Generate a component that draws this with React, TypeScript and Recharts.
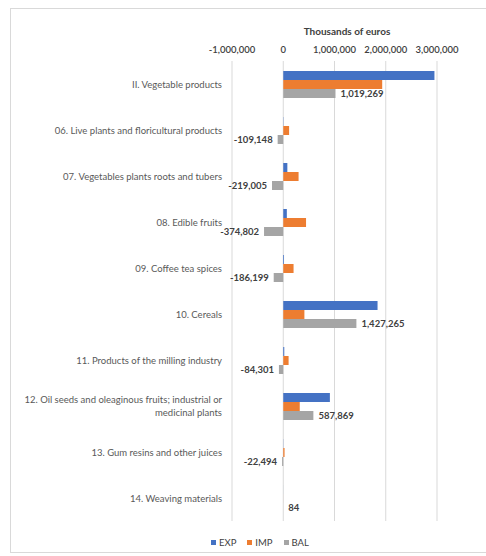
import React from 'react';
import { BarChart, Bar, XAxis, YAxis, CartesianGrid, LabelList } from 'recharts';

const categories = [
  'II. Vegetable products',
  '06. Live plants and floricultural products',
  '07. Vegetables plants roots and tubers',
  '08. Edible fruits',
  '09. Coffee tea spices',
  '10. Cereals',
  '11. Products of the milling industry',
  '12. Oil seeds and oleaginous fruits; industrial or medicinal plants',
  '13. Gum resins and other juices',
  '14. Weaving materials',
];
const expValues = [2950000, 5000, 80000, 70000, 15000, 1840000, 20000, 910000, 3000, 500];
const impValues = [1930731, 114148, 299005, 444802, 201199, 412735, 104301, 322131, 25494, 416];
const balValues = [1019269, -109148, -219005, -374802, -186199, 1427265, -84301, 587869, -22494, 84];
const xTicks = [-1000000, 0, 1000000, 2000000, 3000000];

const seriesNames = ['EXP', 'IMP', 'BAL'];
const seriesColors = ['#4472C4', '#ED7D31', '#A5A5A5'];

const data = categories.map((name, i) => ({
  name,
  EXP: expValues[i],
  IMP: impValues[i],
  BAL: balValues[i],
}));

const FONT = 'Lato, "Open Sans", sans-serif';
const fmt = (v: number) => v.toLocaleString('en-US');

// simple word wrap for long category names
const wrap = (s: string, max: number) => {
  const words = s.split(' ');
  const lines: string[] = [];
  let cur = '';
  words.forEach((w) => {
    if ((cur + ' ' + w).trim().length > max) {
      lines.push(cur.trim());
      cur = w;
    } else {
      cur = (cur + ' ' + w).trim();
    }
  });
  if (cur) lines.push(cur);
  return lines;
};

const CategoryTick = (props: any) => {
  const { y, payload } = props;
  const lines = wrap(payload.value, 50);
  const lh = 12.5;
  const start = y - ((lines.length - 1) * lh) / 2;
  return (
    <text x={222} y={start} textAnchor="end" fontFamily={FONT} fontSize={9.5} fill="#595959">
      {lines.map((l, i) => (
        <tspan key={i} x={222} y={start + i * lh} dominantBaseline="central">
          {l}
        </tspan>
      ))}
    </text>
  );
};

const ValueTick = (props: any) => {
  const { x, payload } = props;
  return (
    <text x={x} y={49} textAnchor="middle" dominantBaseline="central" fontFamily={FONT} fontSize={9.5} fontWeight={600} fill="#404040">
      {fmt(payload.value)}
    </text>
  );
};

const BalLabel = (props: any) => {
  const { x, y, width, height, value } = props;
  const left = Math.min(x, x + width);
  const right = Math.max(x, x + width);
  const pos = value >= 0;
  return (
    <text
      x={pos ? right + 5 : left - 5}
      y={y + height / 2}
      textAnchor={pos ? 'start' : 'end'}
      dominantBaseline="central"
      fontFamily={FONT}
      fontSize={9.5}
      fontWeight={700}
      fill="#404040"
    >
      {fmt(value)}
    </text>
  );
};

export default function App() {
  return (
    <div style={{ position: 'absolute', left: 0, top: 0, width: 486, height: 556, overflow: 'hidden', background: '#fff' }}>
      <div style={{ position: 'absolute', left: 10, top: 8, width: 490, height: 545, border: '1px solid #d9d9d9', boxSizing: 'border-box' }} />
      <div
        style={{
          position: 'absolute',
          left: 287,
          top: 25,
          width: 120,
          textAlign: 'center',
          fontFamily: FONT,
          fontSize: 10,
          fontWeight: 700,
          color: '#404040',
        }}
      >
        Thousands of euros
      </div>
      <div style={{ position: 'absolute', left: 0, top: 0 }}>
        <BarChart
          width={486}
          height={556}
          data={data}
          layout="vertical"
          margin={{ top: 41, right: 49, bottom: 35, left: 0 }}
          barSize={9}
          barGap={0}
        >
          <CartesianGrid horizontal={false} stroke="#d9d9d9" />
          <XAxis
            type="number"
            orientation="top"
            domain={[-1000000, 3000000]}
            ticks={xTicks}
            height={20}
            axisLine={false}
            tickLine={false}
            tick={<ValueTick />}
            interval={0}
          />
          <YAxis
            type="category"
            dataKey="name"
            width={232}
            axisLine={false}
            tickLine={false}
            tick={<CategoryTick />}
            interval={0}
          />
          <Bar dataKey="EXP" fill={seriesColors[0]} isAnimationActive={false} />
          <Bar dataKey="IMP" fill={seriesColors[1]} isAnimationActive={false} />
          <Bar dataKey="BAL" fill={seriesColors[2]} isAnimationActive={false}>
            <LabelList dataKey="BAL" content={<BalLabel />} />
          </Bar>
        </BarChart>
      </div>
      {/* legend */}
      <div
        style={{
          position: 'absolute',
          left: 211,
          top: 537,
          display: 'flex',
          gap: 11,
          fontFamily: FONT,
          fontSize: 9.5,
          color: '#404040',
        }}
      >
        {seriesNames.map((n, i) => (
          <div key={n} style={{ display: 'flex', alignItems: 'center', gap: 3 }}>
            <span style={{ width: 5, height: 5, background: seriesColors[i], display: 'inline-block' }} />
            <span>{n}</span>
          </div>
        ))}
      </div>
    </div>
  );
}
